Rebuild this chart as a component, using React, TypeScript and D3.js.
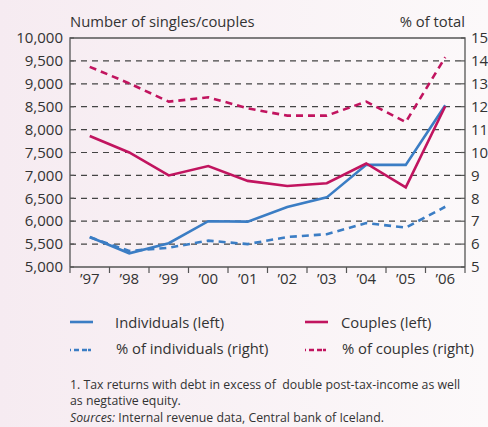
import React from "react";
import * as d3 from "d3";

const years = ["’97", "’98", "’99", "’00", "’01", "’02", "’03", "’04", "’05", "’06"];
const individuals = [5655, 5300, 5520, 6000, 5990, 6310, 6520, 7230, 7230, 8530];
const couples = [7860, 7500, 7000, 7205, 6880, 6770, 6830, 7260, 6740, 8510];
const pctIndividuals = [6.3, 5.7, 5.84, 6.15, 6.0, 6.31, 6.43, 6.92, 6.72, 7.63];
const pctCouples = [13.74, 13.02, 12.22, 12.41, 11.93, 11.61, 11.61, 12.22, 11.33, 14.16];
const leftTicks = [5000, 5500, 6000, 6500, 7000, 7500, 8000, 8500, 9000, 9500, 10000];
const rightTicks = [5, 6, 7, 8, 9, 10, 11, 12, 13, 14, 15];

const W = 488, H = 427;
const L = 70, R = 465, T = 38, B = 267;
const BLUE = "#3b7dc4";
const MAG = "#c1145f";
const AX = "#555";
const FONT = "'Open Sans', sans-serif";

export default function App() {
  const x = d3.scaleBand<string>().domain(years).range([L, R]);
  const yL = d3.scaleLinear().domain([5000, 10000]).range([B, T]);
  const yR = d3.scaleLinear().domain([5, 15]).range([B, T]);
  const cx = (i: number) => (x(years[i]) as number) + x.bandwidth() / 2;
  const lineL = d3.line<number>().x((_, i) => cx(i)).y((d) => yL(d));
  const lineR = d3.line<number>().x((_, i) => cx(i)).y((d) => yR(d));
  const bounds = years.map((y) => x(y) as number).concat([R]);

  return (
    <svg width={W} height={H} style={{ position: "absolute", left: 0, top: 0, display: "block" }} fontFamily={FONT}>
      <defs>
        <linearGradient id="bg" x1="0" x2="1" y1="0" y2="0">
          <stop offset="0" stopColor="#f6ebf1" />
          <stop offset="1" stopColor="#fcf9fa" />
        </linearGradient>
      </defs>
      <rect x={0} y={0} width={W} height={H} fill="url(#bg)" />
      <text x={L} y={27} fontSize={14.8} fill="#333">Number of singles/couples</text>
      <text x={R} y={27} fontSize={14.8} fill="#333" textAnchor="end">% of total</text>

      {leftTicks.slice(1, -1).map((t) => (
        <line key={t} x1={L} x2={R} y1={yL(t)} y2={yL(t)} stroke="#444" strokeWidth={1.2} strokeDasharray="6,5" />
      ))}

      <path d={`M${L},${B}V${T}H${R}V${B}`} fill="none" stroke={AX} strokeWidth={1.3} />
      <line x1={L} x2={R} y1={B} y2={B} stroke={AX} strokeWidth={1.3} />

      {leftTicks.map((t) => (
        <g key={t}>
          <line x1={L} x2={L + 4} y1={yL(t)} y2={yL(t)} stroke={AX} strokeWidth={1.2} />
          <text x={63} y={yL(t)} dy="0.35em" fontSize={15} fill="#333" textAnchor="end">
            {d3.format(",")(t)}
          </text>
        </g>
      ))}
      {rightTicks.map((t) => (
        <g key={t}>
          <line x1={R - 4} x2={R} y1={yR(t)} y2={yR(t)} stroke={AX} strokeWidth={1.2} />
          <text x={471} y={yR(t)} dy="0.35em" fontSize={15} fill="#333">{t}</text>
        </g>
      ))}
      {bounds.map((b, i) => (
        <line key={i} x1={b} x2={b} y1={B} y2={B + 6} stroke={AX} strokeWidth={1.2} />
      ))}
      {years.map((yr, i) => (
        <text key={yr} x={cx(i)} y={284} fontSize={15} fill="#333" textAnchor="middle">{yr}</text>
      ))}

      <path d={lineR(pctIndividuals) || ""} fill="none" stroke={BLUE} strokeWidth={2.6} strokeDasharray="7,5" />
      <path d={lineR(pctCouples) || ""} fill="none" stroke={MAG} strokeWidth={2.6} strokeDasharray="7,5" />
      <path d={lineL(individuals) || ""} fill="none" stroke={BLUE} strokeWidth={2.6} />
      <path d={lineL(couples) || ""} fill="none" stroke={MAG} strokeWidth={2.6} />

      <line x1={70} x2={93} y1={322} y2={322} stroke={BLUE} strokeWidth={2.6} />
      <text x={115} y={328} fontSize={14.8} fill="#333">Individuals (left)</text>
      <line x1={305} x2={328} y1={322} y2={322} stroke={MAG} strokeWidth={2.6} />
      <text x={341} y={328} fontSize={14.8} fill="#333">Couples (left)</text>
      <line x1={70} x2={93} y1={350} y2={350} stroke={BLUE} strokeWidth={2.6} strokeDasharray="1,3,5,3,5" />
      <text x={116} y={354} fontSize={14.8} fill="#333">% of individuals (right)</text>
      <line x1={305} x2={328} y1={350} y2={350} stroke={MAG} strokeWidth={2.6} strokeDasharray="1,3,5,3,5" />
      <text x={342} y={354} fontSize={14.8} fill="#333">% of couples (right)</text>

      <text x={70} y={389} fontSize={12.3} fill="#333" style={{ whiteSpace: "pre" }}>1. Tax returns with debt in excess of  double post-tax-income as well</text>
      <text x={70} y={405} fontSize={12.3} fill="#333">as negtative equity.</text>
      <text x={70} y={422} fontSize={12.3} fill="#333">
        <tspan fontStyle="italic">Sources:</tspan> Internal revenue data, Central bank of Iceland.
      </text>
    </svg>
  );
}
